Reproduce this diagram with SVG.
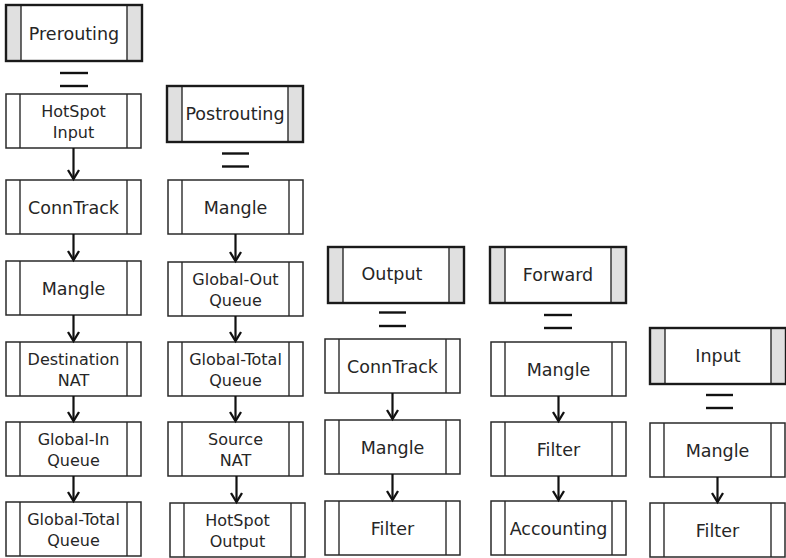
<svg xmlns="http://www.w3.org/2000/svg" xmlns:xlink="http://www.w3.org/1999/xlink" width="786" height="558" viewBox="0 0 786 558">
  <style>
    .frame { fill: #ffffff; stroke: #2a2a2a; stroke-width: 1.5; }
    .sep { stroke: #2a2a2a; stroke-width: 1.4; }
    .hframe { fill: none; stroke: #1a1a1a; stroke-width: 2.4; }
    .side { fill: #e0e0e0; }
    text { font-family: "DejaVu Sans", "Noto Sans", sans-serif; fill: #262626; text-anchor: middle; }
    .t1 { font-size: 17.5px; }
    .t2 { font-size: 16px; }
    .flow line { stroke: #111111; stroke-width: 2.2; }
    .flow .arrow { marker-end: url(#chev); }
    .eq line { stroke: #111111; stroke-width: 2.4; }
  </style>
  <defs>
    <!-- open chevron arrowhead -->
    <marker id="chev" markerUnits="userSpaceOnUse" markerWidth="14" markerHeight="14" refX="10.5" refY="6.5" orient="auto" viewBox="0 0 14 13">
      <path d="M1.5,1 L10.5,6.5 L1.5,12" fill="none" stroke="#111111" stroke-width="2.3"/>
    </marker>
    <!-- plain chain step: box with two side bars -->
    <g id="box">
      <rect class="frame" x="0" y="0" width="135" height="54"/>
      <line class="sep" x1="14" y1="0" x2="14" y2="54"/>
      <line class="sep" x1="121" y1="0" x2="121" y2="54"/>
    </g>
    <!-- chain header: shaded side bars, heavy frame -->
    <g id="hdr">
      <rect x="0" y="0" width="136" height="56" fill="#ffffff"/>
      <rect class="side" x="0" y="0" width="15" height="56"/>
      <rect class="side" x="121" y="0" width="15" height="56"/>
      <line class="sep" x1="15" y1="0" x2="15" y2="56"/>
      <line class="sep" x1="121" y1="0" x2="121" y2="56"/>
      <rect class="hframe" x="0" y="0" width="136" height="56"/>
    </g>
  </defs>

  <!-- Prerouting chain -->
  <g id="prerouting" transform="translate(6,5)"><use xlink:href="#hdr"/><text class="t1" x="68" y="35">Prerouting</text></g>
  <g id="pre-hotspot-input" transform="translate(6,94)"><use xlink:href="#box"/><text class="t2" x="67.5" y="23">HotSpot</text><text class="t2" x="67.5" y="44">Input</text></g>
  <g id="pre-conntrack" transform="translate(6,180)"><use xlink:href="#box"/><text class="t1" x="67.5" y="34">ConnTrack</text></g>
  <g id="pre-mangle" transform="translate(6,261)"><use xlink:href="#box"/><text class="t1" x="67.5" y="34">Mangle</text></g>
  <g id="pre-dnat" transform="translate(6,342)"><use xlink:href="#box"/><text class="t2" x="67.5" y="23">Destination</text><text class="t2" x="67.5" y="44">NAT</text></g>
  <g id="pre-global-in" transform="translate(6,422)"><use xlink:href="#box"/><text class="t2" x="67.5" y="23">Global-In</text><text class="t2" x="67.5" y="44">Queue</text></g>
  <g id="pre-global-total" transform="translate(6,502)"><use xlink:href="#box"/><text class="t2" x="67.5" y="23">Global-Total</text><text class="t2" x="67.5" y="44">Queue</text></g>

  <!-- Postrouting chain -->
  <g id="postrouting" transform="translate(167,86)"><use xlink:href="#hdr"/><text class="t1" x="68" y="34">Postrouting</text></g>
  <g id="post-mangle" transform="translate(168,180)"><use xlink:href="#box"/><text class="t1" x="67.5" y="34">Mangle</text></g>
  <g id="post-global-out" transform="translate(168,262)"><use xlink:href="#box"/><text class="t2" x="67.5" y="23">Global-Out</text><text class="t2" x="67.5" y="44">Queue</text></g>
  <g id="post-global-total" transform="translate(168,342)"><use xlink:href="#box"/><text class="t2" x="67.5" y="23">Global-Total</text><text class="t2" x="67.5" y="44">Queue</text></g>
  <g id="post-snat" transform="translate(168,422)"><use xlink:href="#box"/><text class="t2" x="67.5" y="23">Source</text><text class="t2" x="67.5" y="44">NAT</text></g>
  <g id="post-hotspot-output" transform="translate(170,503)"><use xlink:href="#box"/><text class="t2" x="67.5" y="23">HotSpot</text><text class="t2" x="67.5" y="44">Output</text></g>

  <!-- Output chain -->
  <g id="output" transform="translate(328,247)"><use xlink:href="#hdr"/><text class="t1" x="64" y="33">Output</text></g>
  <g id="out-conntrack" transform="translate(325,339)"><use xlink:href="#box"/><text class="t1" x="67.5" y="34">ConnTrack</text></g>
  <g id="out-mangle" transform="translate(325,420)"><use xlink:href="#box"/><text class="t1" x="67.5" y="34">Mangle</text></g>
  <g id="out-filter" transform="translate(325,501)"><use xlink:href="#box"/><text class="t1" x="67.5" y="34">Filter</text></g>

  <!-- Forward chain -->
  <g id="forward" transform="translate(490,247)"><use xlink:href="#hdr"/><text class="t1" x="68" y="34">Forward</text></g>
  <g id="fwd-mangle" transform="translate(491,342)"><use xlink:href="#box"/><text class="t1" x="67.5" y="34">Mangle</text></g>
  <g id="fwd-filter" transform="translate(491,422)"><use xlink:href="#box"/><text class="t1" x="67.5" y="34">Filter</text></g>
  <g id="fwd-accounting" transform="translate(491,501)"><use xlink:href="#box"/><text class="t1" x="67.5" y="34">Accounting</text></g>

  <!-- Input chain -->
  <g id="input" transform="translate(650,328)"><use xlink:href="#hdr"/><text class="t1" x="68" y="34">Input</text></g>
  <g id="in-mangle" transform="translate(650,423)"><use xlink:href="#box"/><text class="t1" x="67.5" y="34">Mangle</text></g>
  <g id="in-filter" transform="translate(650,503)"><use xlink:href="#box"/><text class="t1" x="67.5" y="34">Filter</text></g>

  <!-- connectors: "=" links from each chain header, arrows between steps -->
  <g id="connectors" class="flow">
    <g class="eq">
      <line x1="60" y1="73" x2="88" y2="73"/><line x1="60" y1="86" x2="88" y2="86"/>
      <line x1="222" y1="153.5" x2="249" y2="153.5"/><line x1="222" y1="166.5" x2="249" y2="166.5"/>
      <line x1="379" y1="312.5" x2="406" y2="312.5"/><line x1="379" y1="326" x2="406" y2="326"/>
      <line x1="544" y1="315" x2="572" y2="315"/><line x1="544" y1="328" x2="572" y2="328"/>
      <line x1="706" y1="395" x2="733" y2="395"/><line x1="706" y1="408" x2="733" y2="408"/>
    </g>
    <line class="arrow" x1="73.5" y1="148" x2="73.5" y2="179"/>
    <line class="arrow" x1="73.5" y1="234" x2="73.5" y2="260"/>
    <line class="arrow" x1="73.5" y1="315" x2="73.5" y2="341"/>
    <line class="arrow" x1="73.5" y1="396" x2="73.5" y2="421"/>
    <line class="arrow" x1="73.5" y1="476" x2="73.5" y2="501"/>

    <line class="arrow" x1="235.5" y1="234" x2="235.5" y2="261"/>
    <line class="arrow" x1="235.5" y1="316" x2="235.5" y2="341"/>
    <line class="arrow" x1="235.5" y1="396" x2="235.5" y2="421"/>
    <line class="arrow" x1="236.5" y1="476" x2="236.5" y2="502"/>

    <line class="arrow" x1="392.5" y1="393" x2="392.5" y2="419"/>
    <line class="arrow" x1="392.5" y1="474" x2="392.5" y2="500"/>

    <line class="arrow" x1="558.5" y1="396" x2="558.5" y2="421"/>
    <line class="arrow" x1="558.5" y1="476" x2="558.5" y2="500"/>

    <line class="arrow" x1="717.5" y1="477" x2="717.5" y2="502"/>
  </g>
</svg>
